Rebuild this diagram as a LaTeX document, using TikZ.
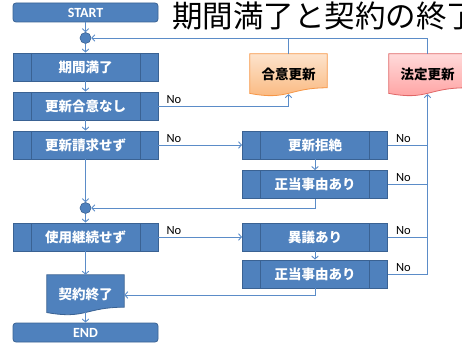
\documentclass[tikz,border=0pt]{standalone}
\usepackage{fontspec}
\newfontfamily\jp{Noto Sans CJK JP}
\newfontfamily\lat{Carlito}
\usetikzlibrary{arrows.meta,calc,backgrounds}
\definecolor{boxblue}{HTML}{4F81BD}
\definecolor{boxedge}{HTML}{3A6293}
\definecolor{linecol}{HTML}{5B8CC8}
\definecolor{orTop}{HTML}{FDE3CC}
\definecolor{orBot}{HTML}{FAB67A}
\definecolor{orEdge}{HTML}{F79646}
\definecolor{pkTop}{HTML}{FFDADA}
\definecolor{pkBot}{HTML}{FF9E9E}
\definecolor{pkEdge}{HTML}{E06666}
\tikzset{
  proc/.style={draw=boxedge, fill=boxblue, line width=0.8pt, minimum width=145pt,
    minimum height=28pt, inner sep=0pt, text=white,
    font=\jp\bfseries\fontsize{13.5}{14}\selectfont,
    path picture={
      \draw[boxedge,line width=0.8pt]
        ([xshift=18pt]path picture bounding box.north west) -- ([xshift=18pt]path picture bounding box.south west)
        ([xshift=-18pt]path picture bounding box.north east) -- ([xshift=-18pt]path picture bounding box.south east);}},
  term/.style={draw=boxedge, fill=boxblue, line width=0.8pt, rounded corners=3pt,
    minimum width=145pt, minimum height=19pt, inner sep=0pt, text=white,
    font=\lat\bfseries\fontsize{14}{14}\selectfont},
  junc/.style={circle, draw=boxedge, fill=boxblue, line width=0.6pt, minimum size=11pt, inner sep=0pt},
  docnode/.style={minimum width=77pt, minimum height=42pt, inner sep=0pt,
    font=\jp\bfseries\fontsize{13.5}{14}\selectfont},
  conn/.style={draw=linecol, line width=0.9pt},
  arr/.style={conn, -{Straight Barb[length=3pt,width=6.5pt]}},
  nolab/.style={font=\lat\fontsize{12.5}{13}\selectfont, inner sep=0pt, anchor=base west}
}
\newcommand\docoutline[2]{%
  \draw[#2] (#1.north west) -- (#1.north east)
    -- ($(#1.north east)!0.802!(#1.south east)$)
    .. controls ($(#1.north)!0.802!(#1.south)$) and ($(#1.north)!1.1075!(#1.south)$)
    .. ($(#1.north west)!0.934!(#1.south west)$) -- cycle;}
\begin{document}
\begin{tikzpicture}[x=1pt,y=-1pt]
\useasboundingbox (0,0) rectangle (462,342);
% title
\node[anchor=west, inner sep=0pt, font=\jp\fontsize{30.5}{31}\selectfont] (title) at (172,16) {期間満了と契約の終了};
% main column
\node[term] (start) at (85.5,12.5) {START};
\node[junc] (j1) at (85.5,38) {};
\node[proc] (p1) at (85.5,67) {期間満了};
\node[proc] (p2) at (85.5,106) {更新合意なし};
\node[proc] (p3) at (85.5,145) {更新請求せず};
\node[junc] (j2) at (85.5,208) {};
\node[proc] (p4) at (85.5,237) {使用継続せず};
\node[docnode, minimum height=40pt, text=white] (kei) at (85.5,295) {\raisebox{3pt}{契約終了}};
\node[term] (end) at (85.5,332.5) {END};
% right column
\node[proc] (q1) at (315,145) {更新拒絶};
\node[proc] (q2) at (315,184.5) {正当事由あり};
\node[proc] (q3) at (315,237) {異議あり};
\node[proc] (q4) at (315,274) {正当事由あり};
% documents
\node[docnode] (goi) at (288.5,75) {\raisebox{3pt}{合意更新}};
\node[docnode] (hou) at (427.5,75) {\raisebox{3pt}{法定更新}};
\begin{scope}[on background layer]
  \docoutline{kei}{fill=boxblue, draw=boxedge, line width=0.8pt}
  \docoutline{goi}{top color=orTop, bottom color=orBot, draw=orEdge, line width=0.8pt}
  \docoutline{hou}{top color=pkTop, bottom color=pkBot, draw=pkEdge, line width=0.8pt}
\end{scope}
% main flow
\draw[arr] (start) -- (j1);
\draw[arr] (j1) -- (p1);
\draw[arr] (p1) -- (p2);
\draw[arr] (p2) -- (p3);
\draw[arr] (p3) -- (j2);
\draw[arr] (j2) -- (p4);
\draw[arr] (p4) -- (kei);
\draw[arr] ($(kei.north)!0.93!(kei.south)$) -- (end);
% branches
\draw[arr] (p2.east) -| ($(goi.north)!0.95!(goi.south)$);
\draw[arr] (p3) -- (q1);
\draw[arr] (q1) -- (q2);
\draw[arr] (p4) -- (q3);
\draw[arr] (q3) -- (q4);
\draw[arr] (q2.south) |- (j2.east);
\draw[arr] (q4.south) |- (kei.east);
% return to top
\draw[arr] (hou.north) |- (j1.east);
\draw[conn] (goi.north) -- (goi.north |- j1.east);
% statutory renewal bus
\draw[conn] (q1.east) -- (q1.east -| hou.south);
\draw[conn] (q2.east) -- (q2.east -| hou.south);
\draw[conn] (q3.east) -- (q3.east -| hou.south);
\draw[arr] (q4.east) -| ($(hou.north)!0.95!(hou.south)$);
% No labels
\node[nolab] (n1) at ($(p2.east)+(8,-3)$) {No};
\node[nolab] (n2) at ($(p3.east)+(8,-3)$) {No};
\node[nolab] (n3) at ($(p4.east)+(8,-3)$) {No};
\node[nolab] (n4) at ($(q1.east)+(8,-3)$) {No};
\node[nolab] (n5) at ($(q2.east)+(8,-3)$) {No};
\node[nolab] (n6) at ($(q3.east)+(8,-3)$) {No};
\node[nolab] (n7) at ($(q4.east)+(8,-3)$) {No};
\end{tikzpicture}
\end{document}
